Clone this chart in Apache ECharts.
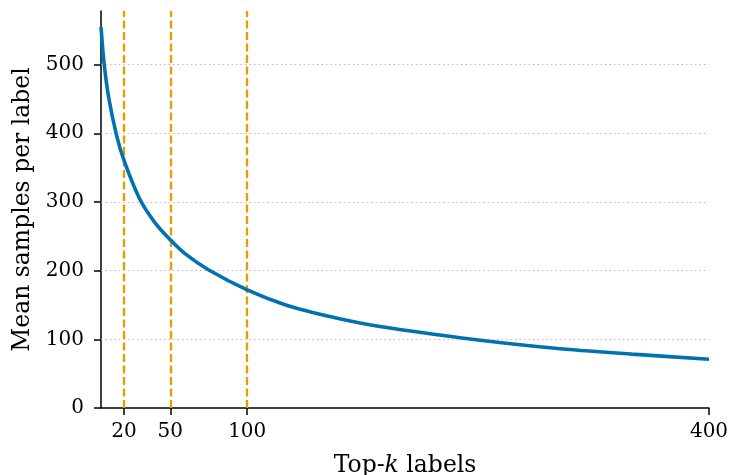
<!DOCTYPE html>
<html>
<head>
<meta charset="utf-8">
<script src="https://cdn.jsdelivr.net/npm/echarts@6/dist/echarts.min.js"></script>
<style>
  html, body { margin: 0; padding: 0; background: #fff; }
  #chart { width: 731px; height: 475px; }
</style>
</head>
<body>
<div id="chart"></div>
<script>
// top-k vs mean samples per label
const topK = [5, 7, 10, 15, 20, 30, 40, 50, 60, 75, 100, 125, 150, 175, 200, 250, 300, 350, 400];
const meanSamples = [555, 502, 452, 398, 360, 305, 270, 245, 224, 201, 172, 150, 135, 123, 114, 99, 87, 78.5, 71];
const cutoffs = [20, 50, 100];
const xTicks = [20, 50, 100, 400];
const yTicks = [0, 100, 200, 300, 400, 500];
const gridLines = [100, 200, 300, 400, 500];

const font = 'DejaVu Serif';
const chart = echarts.init(document.getElementById('chart'));

chart.setOption({
  animation: false,
  grid: { left: 101, right: 22, top: 11, bottom: 67, outerBoundsMode: 'none', containLabel: false },
  xAxis: {
    type: 'value',
    min: 5,
    max: 400,
    name: '{a|Top-}{i|k}{a| labels}',
    nameLocation: 'middle',
    nameGap: 46,
    nameTextStyle: {
      rich: {
        a: { fontFamily: font, fontSize: 23.5, color: '#000' },
        i: { fontFamily: font, fontSize: 23.5, fontStyle: 'italic', color: '#000' }
      }
    },
    axisLine: { lineStyle: { color: '#000', width: 1.5 } },
    axisTick: { customValues: xTicks, length: 7, lineStyle: { color: '#000', width: 1.5 } },
    axisLabel: { customValues: xTicks, margin: 14, fontFamily: font, fontSize: 20, color: '#000' },
    splitLine: { show: false }
  },
  yAxis: {
    type: 'value',
    min: 0,
    max: 578,
    name: 'Mean samples per label',
    nameLocation: 'middle',
    nameGap: 66,
    nameTextStyle: { fontFamily: font, fontSize: 23.5, color: '#000' },
    axisLine: { show: true, lineStyle: { color: '#000', width: 1.5 } },
    axisTick: { show: true, customValues: yTicks, length: 7, lineStyle: { color: '#000', width: 1.5 } },
    axisLabel: { customValues: yTicks, margin: 17, fontFamily: font, fontSize: 20, color: '#000' },
    splitLine: { show: false }
  },
  series: [
    {
      type: 'line',
      data: [],
      z: 1,
      markLine: {
        silent: true,
        symbol: 'none',
        label: { show: false },
        lineStyle: { color: '#bbbbbb', width: 1, type: [1.5, 3] },
        data: gridLines.map(v => ({ yAxis: v }))
      }
    },
    {
      type: 'line',
      data: [],
      z: 2,
      markLine: {
        silent: true,
        symbol: 'none',
        label: { show: false },
        lineStyle: { color: '#E69F00', width: 2.4, type: [8, 3.5] },
        data: cutoffs.map(v => ({ xAxis: v }))
      }
    },
    {
      type: 'line',
      z: 5,
      data: topK.map((k, i) => [k, meanSamples[i]]),
      smooth: 0.3,
      showSymbol: false,
      lineStyle: { color: '#0072B2', width: 3.6 }
    }
  ]
});
</script>
</body>
</html>
